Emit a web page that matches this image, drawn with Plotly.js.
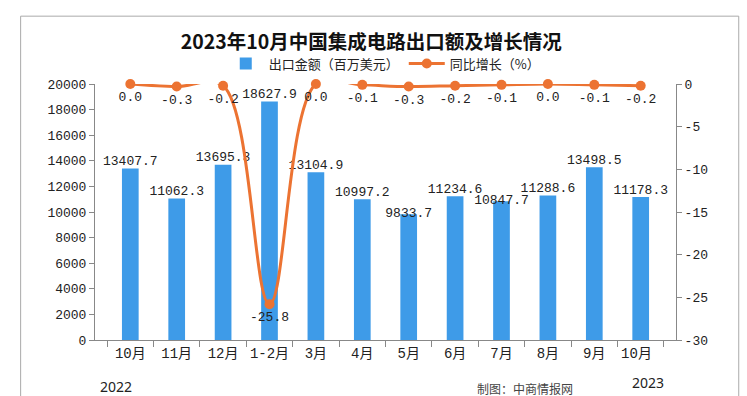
<!DOCTYPE html>
<html>
<head>
<meta charset="utf-8">
<script src="https://cdn.plot.ly/plotly-3.0.1.min.js"></script>
<style>html,body{margin:0;padding:0;background:#fff;}#chart{width:747px;height:396px;}</style>
</head>
<body>
<div id="chart"></div>
<script>
const categories = ["10月","11月","12月","1-2月","3月","4月","5月","6月","7月","8月","9月","10月 "];
const exportValues = [13407.7, 11062.3, 13695.3, 18627.9, 13104.9, 10997.2, 9833.7, 11234.6, 10847.7, 11288.6, 13498.5, 11178.3];
const growthValues = [0.0, -0.3, -0.2, -25.8, 0.0, -0.1, -0.3, -0.2, -0.1, 0.0, -0.1, -0.2];
const leftTicks = [0,2000,4000,6000,8000,10000,12000,14000,16000,18000,20000];
const leftTickText = ["0","2000","4000","6000","8000","10000","12000","14000","16000","18000","20000"];
const rightTicks = [0,-5,-10,-15,-20,-25,-30];
const rightTickText = ["0","-5","-10","-15","-20","-25","-30"];
// label placement for the bar value labels (Excel nudged 5月 and 7月 down)
const barLabelPositions = ["top center","top center","top center","top center","top center","top center",
  "middle center","top center","middle center","top center","top center","top center"];

const monoFont = "Liberation Mono, 'Noto Sans CJK SC', monospace";
const cjkFont = "'Noto Sans CJK SC', sans-serif";

const barTrace = {
  type: 'bar', name: '出口金额（百万美元）',
  x: categories, y: exportValues,
  marker: {color: '#3E9BE8'},
  hoverinfo: 'x+y'
};
const barLabelTrace = {
  type: 'scatter', mode: 'text', showlegend: false,
  x: categories, y: exportValues,
  text: exportValues.map(v => v.toFixed(1)),
  textposition: barLabelPositions, cliponaxis: false,
  textfont: {family: monoFont, size: 13, color: '#222'},
  hoverinfo: 'skip'
};
const lineTrace = {
  type: 'scatter', mode: 'lines+markers+text', name: '同比增长（%）',
  x: categories, y: growthValues, yaxis: 'y2',
  line: {color: '#EC7332', width: 3, shape: 'spline', smoothing: 1},
  marker: {color: '#EC7332', size: 10},
  text: growthValues.map(v => v.toFixed(1)),
  textposition: 'bottom center', cliponaxis: false,
  textfont: {family: monoFont, size: 13, color: '#222'}
};

const layout = {
  width: 747, height: 396,
  margin: {l: 95, r: 71, t: 84, b: 56},
  paper_bgcolor: '#fff', plot_bgcolor: '#fff',
  showlegend: true,
  title: {text: '<b>2023年10月中国集成电路出口额及增长情况</b>', font: {family: cjkFont, size: 19.5, color: '#111'}, x: 0.497, xanchor: 'center', y: 0.893, yanchor: 'middle'},
  legend: {orientation: 'h', x: 0.497, xanchor: 'center', y: 1.08, yanchor: 'middle', font: {family: cjkFont, size: 13, color: '#222'}, itemwidth: 36, tracegroupgap: 0},
  bargap: 0.64,
  xaxis: {
    type: 'category', showline: true, linecolor: '#888', linewidth: 1, tickangle: 0,
    ticks: 'outside', tickson: 'boundaries', ticklen: 6, tickcolor: '#888',
    tickfont: {family: monoFont, size: 14, color: '#222'}, showgrid: false, zeroline: false
  },
  yaxis: {
    range: [0, 20000], tickvals: leftTicks, ticktext: leftTickText, showline: true, linecolor: '#888', linewidth: 1,
    ticks: 'outside', ticklen: 5, tickcolor: '#888', showgrid: false, zeroline: false,
    tickfont: {family: monoFont, size: 13, color: '#222'}
  },
  yaxis2: {
    overlaying: 'y', side: 'right', range: [-30, 0], tickvals: rightTicks, ticktext: rightTickText,
    showline: true, linecolor: '#888', linewidth: 1, ticks: 'outside', ticklen: 5, tickcolor: '#888',
    showgrid: false, zeroline: false, tickfont: {family: monoFont, size: 13, color: '#222'}
  },
  shapes: [{
    type: 'rect', xref: 'paper', yref: 'paper', x0: -0.128, x1: 1.108, y0: -0.4, y1: 1.265,
    line: {color: '#aaa', width: 1}, fillcolor: 'rgba(0,0,0,0)', layer: 'below'
  }],
  annotations: [
    {text: '2022', xref: 'paper', yref: 'paper', x: 0.036, y: -0.18, xanchor: 'center', yanchor: 'middle', showarrow: false, font: {family: "'Noto Sans', sans-serif", size: 14, color: '#222'}},
    {text: '2023', xref: 'paper', yref: 'paper', x: 0.952, y: -0.165, xanchor: 'center', yanchor: 'middle', showarrow: false, font: {family: "'Noto Sans', sans-serif", size: 14, color: '#222'}},
    {text: '制图：中商情报网', xref: 'paper', yref: 'paper', x: 0.74, y: -0.19, xanchor: 'center', yanchor: 'middle', showarrow: false, font: {family: cjkFont, size: 12, color: '#444'}}
  ]
};

Plotly.newPlot('chart', [barTrace, barLabelTrace, lineTrace], layout, {displayModeBar: false, staticPlot: true});
</script>
</body>
</html>
